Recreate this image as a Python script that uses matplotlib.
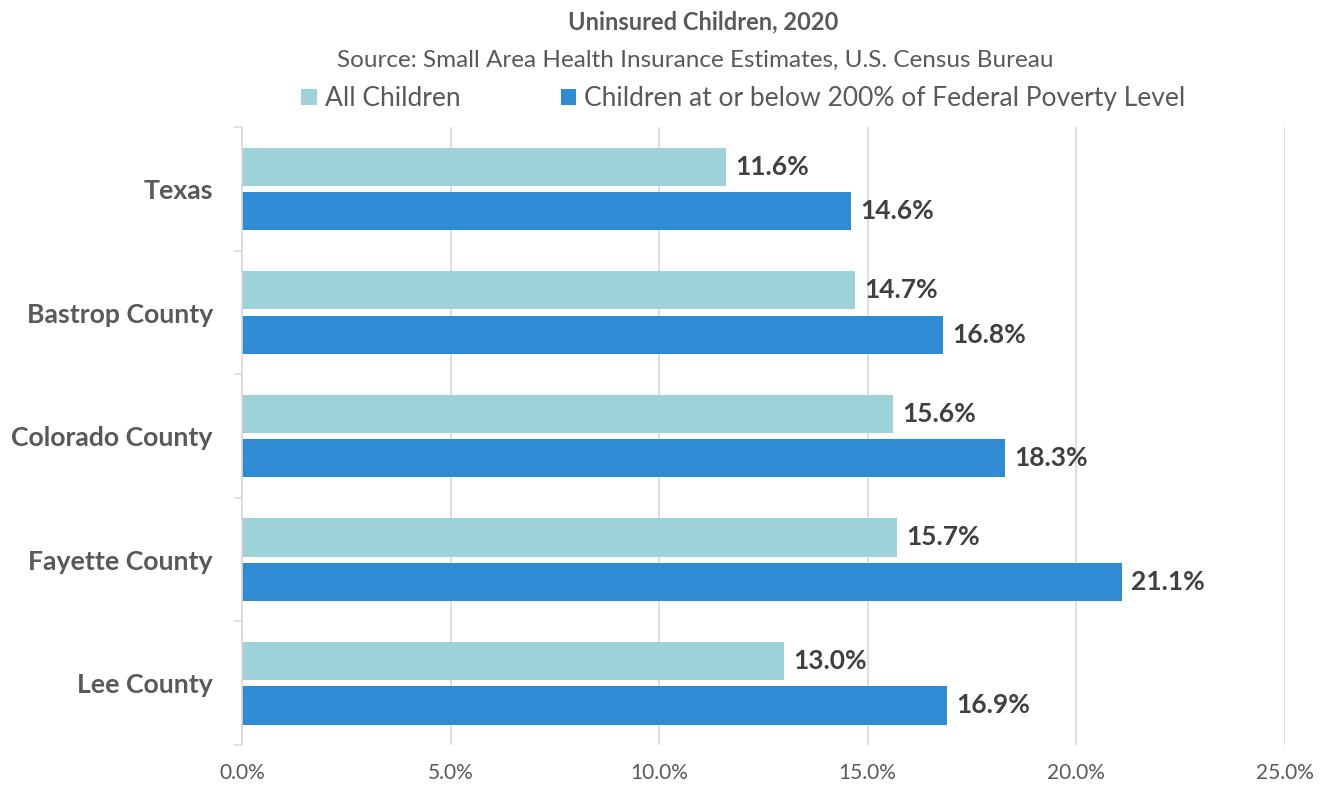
import matplotlib
matplotlib.use("Agg")
import matplotlib.pyplot as plt
import numpy as np

plt.rcParams['font.family'] = ['Lato', 'DejaVu Sans']

regions = ["Texas", "Bastrop County", "Colorado County", "Fayette County", "Lee County"]
all_children = [11.6, 14.7, 15.6, 15.7, 13.0]
low_income = [14.6, 16.8, 18.3, 21.1, 16.9]
series_names = ["All Children", "Children at or below 200% of Federal Poverty Level"]
xticks = [0, 5, 10, 15, 20, 25]

light = "#9DD3D8"
dark = "#2E8BD4"
grey = "#595959"

fig = plt.figure(figsize=(13.25, 7.85), dpi=100)
ax = fig.add_axes([0.1826, 0.051, 0.787, 0.787])

y = np.arange(len(regions))
h = 0.31
off = 0.18
b1 = ax.barh(y - off, all_children, height=h, color=light, label=series_names[0])
b2 = ax.barh(y + off, low_income, height=h, color=dark, label=series_names[1])

for bars, vals in [(b1, all_children), (b2, low_income)]:
    for bar, v in zip(bars, vals):
        ax.text(v + 0.22, bar.get_y() + bar.get_height() / 2, f"{v:.1f}%",
                va="center", ha="left", fontsize=19, fontweight="bold", color="#404040")

ax.set_ylim(len(regions) - 0.5, -0.5)
ax.set_xlim(0, 25)
ax.set_xticks(xticks)
ax.set_xticklabels([f"{t:.1f}%" for t in xticks], fontsize=15, color=grey)
ax.tick_params(axis="x", length=0, pad=13)

ax.set_yticks(y)
ax.set_yticklabels(regions, fontsize=19.2, fontweight="bold", color=grey)
ax.set_yticks(np.arange(len(regions) + 1) - 0.5, minor=True)
ax.tick_params(axis="y", which="major", length=0, pad=21)
ax.tick_params(axis="y", which="minor", length=6, color="#D9D9D9", width=1.2)

ax.xaxis.grid(True, color="#D9D9D9", linewidth=1.2)
ax.set_axisbelow(True)
for s in ["top", "right", "bottom"]:
    ax.spines[s].set_visible(False)
ax.spines["left"].set_color("#D9D9D9")
ax.spines["left"].set_linewidth(1.2)

fig.text(0.5306, 0.972, "Uninsured Children, 2020", ha="center", va="center",
         fontsize=17, fontweight="bold", color=grey)
fig.text(0.525, 0.9236, "Source: Small Area Health Insurance Estimates, U.S. Census Bureau",
         ha="center", va="center", fontsize=17.5, color=grey)

leg = fig.legend(handles=[b1, b2], loc="center", bbox_to_anchor=(0.561, 0.874), ncol=2,
                 frameon=False, fontsize=19, handlelength=0.6, handleheight=0.6,
                 handletextpad=0.3, columnspacing=3.8)
for t in leg.get_texts():
    t.set_color(grey)

fig.savefig("out.png", dpi=100)
